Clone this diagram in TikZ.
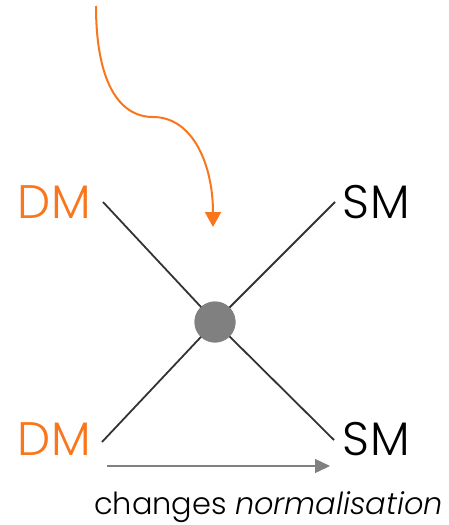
\documentclass[tikz,border=0pt]{standalone}
\usepackage{fontspec}
\setmainfont{Poppins Light}[ItalicFont={Poppins Light Italic}]
\usetikzlibrary{arrows.meta}
\definecolor{org}{RGB}{250,118,28}
\definecolor{lin}{RGB}{51,51,51}
\definecolor{gry}{RGB}{128,128,128}
\begin{document}
\begin{tikzpicture}[x=1pt,y=-1pt,
  lbl/.style={inner sep=0pt,anchor=base west,font=\fontsize{47}{47}\selectfont\addfontfeatures{LetterSpace=2}},
  leg/.style={draw=lin,line width=1.8pt},
]
\useasboundingbox (0,0) rectangle (449,525);
\node[lbl,text=org] (dml) at (17,218) {DM};
\node[lbl,text=org] (dmb) at (17,455) {DM};
\node[lbl] (smt) at (342,218) {SM};
\node[lbl] (smb) at (342,455) {SM};
\node[circle,fill=gry,minimum size=41pt,inner sep=0pt] (v) at (215,322) {};
\coordinate (a) at (103,202);
\coordinate (b) at (335,202);
\coordinate (c) at (102,442);
\coordinate (d) at (334,440);
\draw[leg] (a) -- (v.center);
\draw[leg] (b) -- (v.center);
\draw[leg] (c) -- (v.center);
\draw[leg] (d) -- (v.center);
\node[circle,fill=gry,minimum size=41pt,inner sep=0pt] at (v) {};
\coordinate (s) at (96,6);
\coordinate (t) at (213,227);
\draw[org,line width=2pt,-{Triangle[length=15pt,width=16pt]}] (s) .. controls (96,80) and (118,117) .. (153,117) .. controls (193,117) and (213,165) .. (t);
\coordinate (g1) at (107,466);
\coordinate (g2) at (330,466);
\draw[gry,line width=1.4pt,-{Triangle[length=15pt,width=14pt]}] (g1) -- (g2);
\node[inner sep=0pt,anchor=base west,font=\fontsize{30.4}{30.4}\selectfont] (cap) at (94,514) {changes \textit{normalisation}};
\end{tikzpicture}
\end{document}
